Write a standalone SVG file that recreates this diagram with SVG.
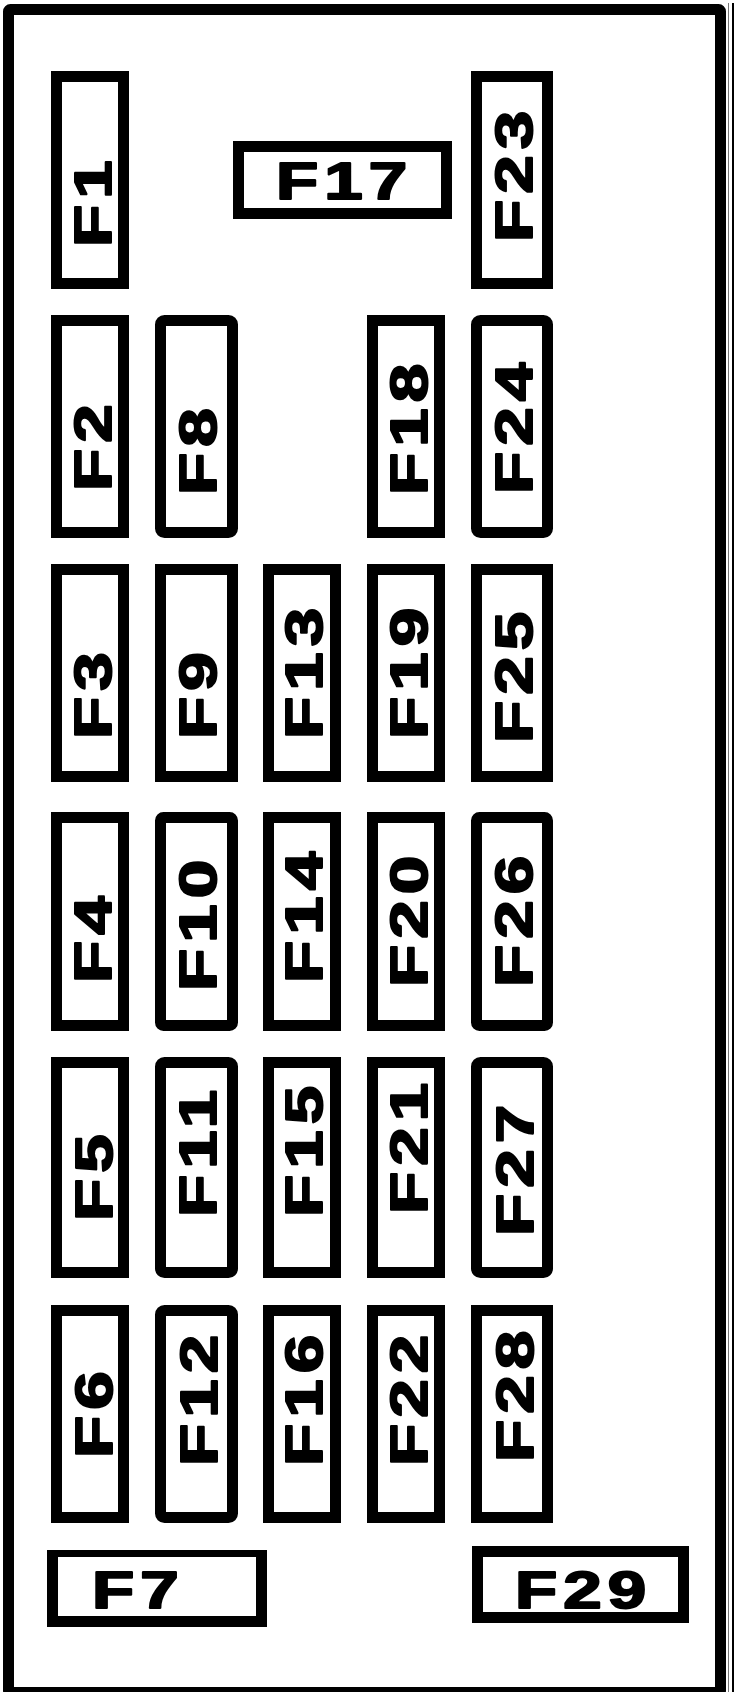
<svg xmlns="http://www.w3.org/2000/svg" width="739" height="1692" viewBox="0 0 739 1692">
<style>
.frame{fill:none;stroke:#000;stroke-width:11}
.fuse{fill:#fff;stroke:#000;stroke-width:11}
.lbl{font-family:"Liberation Sans",Arial,sans-serif;font-weight:bold;font-size:52px;letter-spacing:4.5px;fill:#000;stroke:#000;stroke-width:2;stroke-linejoin:round}
</style>
<rect width="739" height="1692" fill="#fff"/>
<g id="frame">
<rect class="frame" x="8.5" y="9.5" width="712" height="1683" rx="2"/>
<line x1="728.5" y1="3" x2="728.5" y2="1692" stroke="#777" stroke-width="1"/>
<line x1="733" y1="3" x2="733" y2="1692" stroke="#000" stroke-width="2"/>
</g>
<g id="F1"><rect class="fuse" x="56.5" y="76.5" width="67" height="207"/><text class="lbl" transform="translate(111,247) rotate(-90) scale(1.33,1)">F1</text></g>
<g id="F17"><rect class="fuse" x="238.5" y="146.5" width="208" height="67"/><text class="lbl" transform="translate(276,199) scale(1.33,1)">F17</text></g>
<g id="F23"><rect class="fuse" x="476.5" y="76.5" width="71" height="207"/><text class="lbl" transform="translate(532,242) rotate(-90) scale(1.33,1)">F23</text></g>

<g id="F2"><rect class="fuse" x="56.5" y="320.5" width="67" height="212"/><text class="lbl" transform="translate(111,491) rotate(-90) scale(1.33,1)">F2</text></g>
<g id="F8"><rect class="fuse" x="160.5" y="320.5" width="72" height="212" rx="4"/><text class="lbl" transform="translate(216,495) rotate(-90) scale(1.33,1)">F8</text></g>
<g id="F18"><rect class="fuse" x="372.5" y="320.5" width="67" height="212"/><text class="lbl" transform="translate(427,495) rotate(-90) scale(1.33,1)">F18</text></g>
<g id="F24"><rect class="fuse" x="476.5" y="320.5" width="71" height="212" rx="4"/><text class="lbl" transform="translate(532,494) rotate(-90) scale(1.33,1)">F24</text></g>

<g id="F3"><rect class="fuse" x="56.5" y="569.5" width="67" height="207"/><text class="lbl" transform="translate(111,739) rotate(-90) scale(1.33,1)">F3</text></g>
<g id="F9"><rect class="fuse" x="160.5" y="569.5" width="72" height="207"/><text class="lbl" transform="translate(216,739) rotate(-90) scale(1.33,1)">F9</text></g>
<g id="F13"><rect class="fuse" x="268.5" y="569.5" width="67" height="207"/><text class="lbl" transform="translate(322,739) rotate(-90) scale(1.33,1)">F13</text></g>
<g id="F19"><rect class="fuse" x="372.5" y="569.5" width="67" height="207"/><text class="lbl" transform="translate(427,739) rotate(-90) scale(1.33,1)">F19</text></g>
<g id="F25"><rect class="fuse" x="476.5" y="569.5" width="71" height="207"/><text class="lbl" transform="translate(532,743) rotate(-90) scale(1.33,1)">F25</text></g>

<g id="F4"><rect class="fuse" x="56.5" y="817.5" width="67" height="208"/><text class="lbl" transform="translate(111,983) rotate(-90) scale(1.33,1)">F4</text></g>
<g id="F10"><rect class="fuse" x="160.5" y="817.5" width="72" height="208" rx="3"/><text class="lbl" transform="translate(216,991) rotate(-90) scale(1.33,1)">F10</text></g>
<g id="F14"><rect class="fuse" x="268.5" y="817.5" width="67" height="208"/><text class="lbl" transform="translate(322,983) rotate(-90) scale(1.33,1)">F14</text></g>
<g id="F20"><rect class="fuse" x="372.5" y="817.5" width="67" height="208"/><text class="lbl" transform="translate(427,987) rotate(-90) scale(1.33,1)">F20</text></g>
<g id="F26"><rect class="fuse" x="476.5" y="817.5" width="71" height="208" rx="3"/><text class="lbl" transform="translate(532,987) rotate(-90) scale(1.33,1)">F26</text></g>

<g id="F5"><rect class="fuse" x="56.5" y="1062.5" width="67" height="210"/><text class="lbl" transform="translate(112,1221) rotate(-90) scale(1.33,1)">F5</text></g>
<g id="F11"><rect class="fuse" x="160.5" y="1062.5" width="72" height="210" rx="4"/><text class="lbl" transform="translate(216,1217) rotate(-90) scale(1.33,1)">F11</text></g>
<g id="F15"><rect class="fuse" x="268.5" y="1062.5" width="67" height="210"/><text class="lbl" transform="translate(322,1217) rotate(-90) scale(1.33,1)">F15</text></g>
<g id="F21"><rect class="fuse" x="372.5" y="1062.5" width="67" height="210"/><text class="lbl" transform="translate(427,1214) rotate(-90) scale(1.33,1)">F21</text></g>
<g id="F27"><rect class="fuse" x="476.5" y="1062.5" width="71" height="210" rx="4"/><text class="lbl" transform="translate(533,1236) rotate(-90) scale(1.33,1)">F27</text></g>

<g id="F6"><rect class="fuse" x="56.5" y="1310.5" width="67" height="207"/><text class="lbl" transform="translate(112,1458) rotate(-90) scale(1.33,1)">F6</text></g>
<g id="F12"><rect class="fuse" x="160.5" y="1310.5" width="72" height="207" rx="4"/><text class="lbl" transform="translate(217,1466) rotate(-90) scale(1.33,1)">F12</text></g>
<g id="F16"><rect class="fuse" x="268.5" y="1310.5" width="67" height="207"/><text class="lbl" transform="translate(322,1466) rotate(-90) scale(1.33,1)">F16</text></g>
<g id="F22"><rect class="fuse" x="372.5" y="1310.5" width="67" height="207"/><text class="lbl" transform="translate(427,1466) rotate(-90) scale(1.33,1)">F22</text></g>
<g id="F28"><rect class="fuse" x="476.5" y="1310.5" width="71" height="207"/><text class="lbl" transform="translate(533,1462) rotate(-90) scale(1.33,1)">F28</text></g>

<g id="F7"><rect x="47" y="1550" width="220" height="77" fill="#000"/><rect x="58" y="1557" width="198" height="59" fill="#fff"/><text class="lbl" transform="translate(92,1608) scale(1.33,1)">F7</text></g>
<g id="F29"><rect class="fuse" x="477.5" y="1551.5" width="206" height="66"/><text class="lbl" transform="translate(515,1608) scale(1.33,1)">F29</text></g>
</svg>
